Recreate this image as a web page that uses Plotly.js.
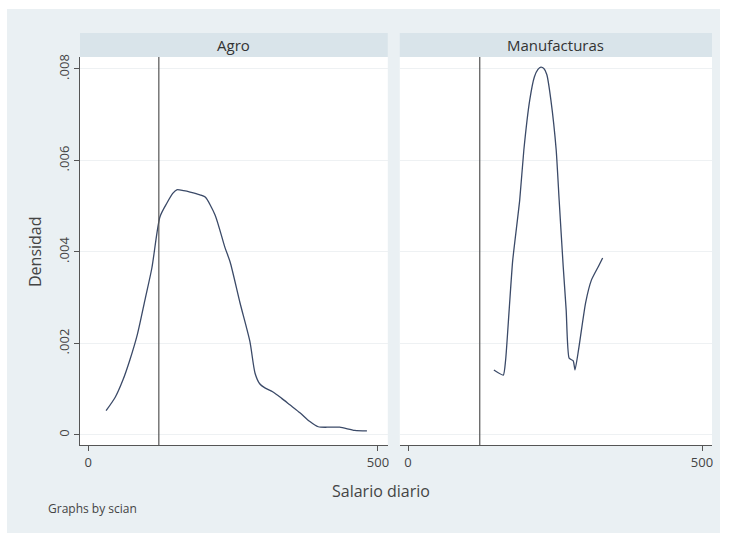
<!DOCTYPE html>
<html>
<head>
<meta charset="utf-8">
<script src="https://cdn.plot.ly/plotly-3.0.1.min.js"></script>
<style>html,body{margin:0;padding:0;background:#fff;}#chart{width:729px;height:533px;}</style>
</head>
<body>
<div id="chart"></div>
<script>
// Data
const panels = ["Agro", "Manufacturas"];
const agroX = [31, 47, 60, 72, 85, 98, 110, 124, 136, 146, 153, 165, 176, 193, 202, 219, 236, 245, 262, 279, 288, 296, 305, 319, 334, 348, 366, 382, 397, 417, 434, 460, 481];
const agroY = [0.00053, 0.00083, 0.0012, 0.00164, 0.0022, 0.00295, 0.00365, 0.00477, 0.00507, 0.00528, 0.00536, 0.00534, 0.00531, 0.00525, 0.0052, 0.00481, 0.0041, 0.00378, 0.00289, 0.00205, 0.00135, 0.00112, 0.00103, 0.00094, 0.0008, 0.00066, 0.00048, 0.0003, 0.00018, 0.00017, 0.00017, 0.0001, 0.00009];
const manuX = [146, 162, 166, 172, 178, 190, 197, 207, 215, 221, 226, 231, 236, 243, 252, 257, 264, 269, 274, 281, 284, 290, 302, 312, 324, 331];
const manuY = [0.00142, 0.00131, 0.00164, 0.00273, 0.00381, 0.00514, 0.00623, 0.00732, 0.00783, 0.00799, 0.00804, 0.00801, 0.00788, 0.00732, 0.00623, 0.00514, 0.00367, 0.00273, 0.00168, 0.00162, 0.00142, 0.00186, 0.00289, 0.00339, 0.00369, 0.00387];
const refLineX = 122;
const yTickVals = [0, 0.002, 0.004, 0.006, 0.008];
const yTickText = ["0", ".002", ".004", ".006", ".008"];
const xTickVals = [0, 500];
const xTickText = ["0", "500"];

const lineColor = "#3b4a68";
const axisColor = "#555555";
const bg = "#eaf0f3";
const strip = "#d9e4ea";

const traces = [
  {x: agroX, y: agroY, xaxis: "x", yaxis: "y", mode: "lines", line: {color: lineColor, width: 1.3, shape: "spline", smoothing: 0.7}, hoverinfo: "skip"},
  {x: manuX, y: manuY, xaxis: "x2", yaxis: "y2", mode: "lines", line: {color: lineColor, width: 1.3, shape: "spline", smoothing: 0.5}, hoverinfo: "skip"}
];

const xr = [-14, 517];
const yr = [-0.000219, 0.008262];
const tickFont = {family: "Open Sans", size: 13, color: "#444"};
const xaxisBase = {
  range: xr, tickvals: xTickVals, ticktext: xTickText, ticks: "outside", ticklen: 5, tickcolor: axisColor,
  showline: true, linecolor: axisColor, linewidth: 1.2, showgrid: false, zeroline: false,
  tickfont: tickFont, mirror: false
};
const layout = {
  width: 729, height: 533,
  margin: {l: 80, r: 17, t: 57, b: 88},
  paper_bgcolor: bg, plot_bgcolor: "#ffffff",
  showlegend: false,
  font: {family: "Open Sans", color: "#444"},
  xaxis: Object.assign({}, xaxisBase, {domain: [0, 0.487], anchor: "y"}),
  xaxis2: Object.assign({}, xaxisBase, {domain: [0.506, 1], anchor: "y2"}),
  yaxis: {
    range: yr, domain: [0, 1], anchor: "x", tickvals: yTickVals, ticktext: yTickText, tickangle: -90,
    ticks: "outside", ticklen: 5, tickcolor: axisColor, showline: true, linecolor: axisColor, linewidth: 1.2,
    showgrid: true, gridcolor: "#eef1f3", gridwidth: 1, zeroline: false,
    tickfont: tickFont
  },
  yaxis2: {
    range: yr, domain: [0, 1], anchor: "x2", tickvals: yTickVals, showticklabels: false, ticks: "",
    showline: false, showgrid: true, gridcolor: "#eef1f3", gridwidth: 1, zeroline: false
  },
  shapes: [
    // white outer border
    {type: "rect", xref: "paper", yref: "paper", x0: -0.13, x1: -0.1155, y0: -0.3, y1: 1.2, fillcolor: "#fff", line: {width: 0}},
    {type: "rect", xref: "paper", yref: "paper", x0: 1.0127, x1: 1.05, y0: -0.3, y1: 1.2, fillcolor: "#fff", line: {width: 0}},
    {type: "rect", xref: "paper", yref: "paper", x0: -0.13, x1: 1.05, y0: 1.1237, y1: 1.2, fillcolor: "#fff", line: {width: 0}},
    // strip headers
    {type: "rect", xref: "paper", yref: "paper", x0: 0, x1: 0.487, y0: 1.0, y1: 1.0619, fillcolor: strip, line: {width: 0}},
    {type: "rect", xref: "paper", yref: "paper", x0: 0.506, x1: 1, y0: 1.0, y1: 1.0619, fillcolor: strip, line: {width: 0}},
    // reference lines
    {type: "line", xref: "x", yref: "y domain", x0: refLineX, x1: refLineX, y0: 0, y1: 1, line: {color: axisColor, width: 1.2}},
    {type: "line", xref: "x2", yref: "y2 domain", x0: refLineX, x1: refLineX, y0: 0, y1: 1, line: {color: axisColor, width: 1.2}}
  ],
  annotations: [
    {text: panels[0], xref: "paper", yref: "paper", x: 0.2435, y: 1.031, showarrow: false, xanchor: "center", yanchor: "middle", font: {family: "Open Sans", size: 15, color: "#333"}},
    {text: panels[1], xref: "paper", yref: "paper", x: 0.753, y: 1.031, showarrow: false, xanchor: "center", yanchor: "middle", font: {family: "Open Sans", size: 15, color: "#333"}},
    {text: "Salario diario", xref: "paper", yref: "paper", x: (381 - 80) / 632, y: (445 - 491) / 388, showarrow: false, xanchor: "center", yanchor: "middle", font: {family: "Open Sans", size: 16, color: "#444"}},
    {text: "Densidad", xref: "paper", yref: "paper", x: (35 - 80) / 632, y: (445 - 252) / 388, textangle: -90, showarrow: false, xanchor: "center", yanchor: "middle", font: {family: "Open Sans", size: 16, color: "#444"}},
    {text: "Graphs by scian", xref: "paper", yref: "paper", x: (46 - 80) / 632, y: (445 - 508) / 388, showarrow: false, xanchor: "left", yanchor: "middle", font: {family: "Open Sans", size: 12, color: "#444"}}
  ]
};
Plotly.newPlot("chart", traces, layout, {displayModeBar: false, staticPlot: true});
</script>
</body>
</html>
